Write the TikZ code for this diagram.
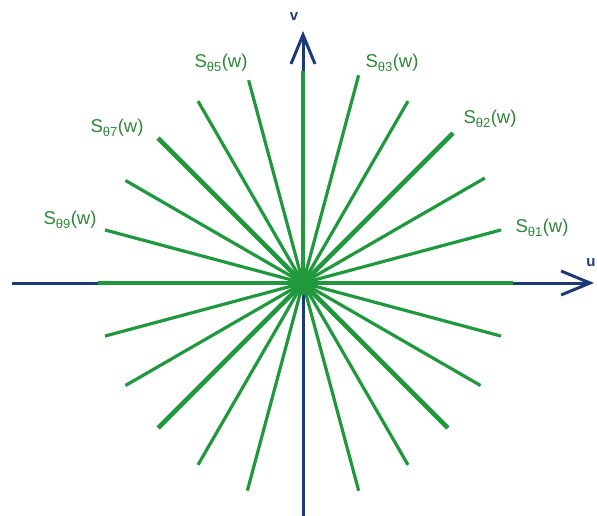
\documentclass[tikz,border=0pt]{standalone}
\usepackage{fontspec}
\setmainfont{Liberation Sans}
\usetikzlibrary{arrows.meta,calc}
\definecolor{rayg}{RGB}{32,152,62}
\definecolor{txtg}{RGB}{45,135,55}
\definecolor{axb}{RGB}{28,58,120}
\tikzset{
  axis/.style={draw=axb,line width=3pt},
  ray/.style={draw=rayg,line width=3.2pt},
  thickray/.style={draw=rayg,line width=4.6pt},
  lbl/.style={text=txtg,font=\fontsize{18.5}{20}\selectfont,inner sep=0pt},
  axlbl/.style={text=axb,font=\fontsize{15}{17}\selectfont\bfseries,inner sep=0pt},
  tip/.style={-{Straight Barb[length=29pt,width=24pt,line width=3pt]}}
}
\newcommand{\sublbl}[1]{S\textsubscript{\fontsize{13}{13}\selectfont θ#1}(w)}
\begin{document}
\begin{tikzpicture}[x=1pt,y=-1pt]
\useasboundingbox (0,0) rectangle (597,515);
\coordinate (c) at (303,283);
% axes
\coordinate (xl) at (12,283);
\coordinate (xr) at (594,283);
\coordinate (yb) at (303,520);
\coordinate (yt) at (303,31);
\draw[axis,tip] (xl) -- (xr);
\draw[axis,tip] (yb) -- (yt);
% rays (angles measured counter-clockwise on screen)
\foreach \a/\r in {0/210,15/205,30/210,60/210,75/215,90/212,105/210,120/210,150/205,165/205,180/205,195/205,210/205,240/210,255/215,285/215,300/210,330/205,345/205}{
  \coordinate (e\a) at ($(c)+({\r*cos(\a)},{-\r*sin(\a)})$);
  \draw[ray] (c) -- (e\a);
}
\foreach \a/\r in {45/212,135/205,225/205,315/205}{
  \coordinate (e\a) at ($(c)+({\r*cos(\a)},{-\r*sin(\a)})$);
  \draw[thickray] (c) -- (e\a);
}
\fill[rayg] (c) circle (12);
% labels
\node[lbl] (l1) at (542,228) {\sublbl{1}};
\node[lbl] (l2) at (490,119) {\sublbl{2}};
\node[lbl] (l3) at (392,63) {\sublbl{3}};
\node[lbl] (l5) at (221,63) {\sublbl{5}};
\node[lbl] (l7) at (117,128) {\sublbl{7}};
\node[lbl] (l9) at (70,220) {\sublbl{9}};
\node[axlbl] (v) at (294,17) {v};
\node[axlbl] (u) at (591,263) {u};
\end{tikzpicture}
\end{document}
